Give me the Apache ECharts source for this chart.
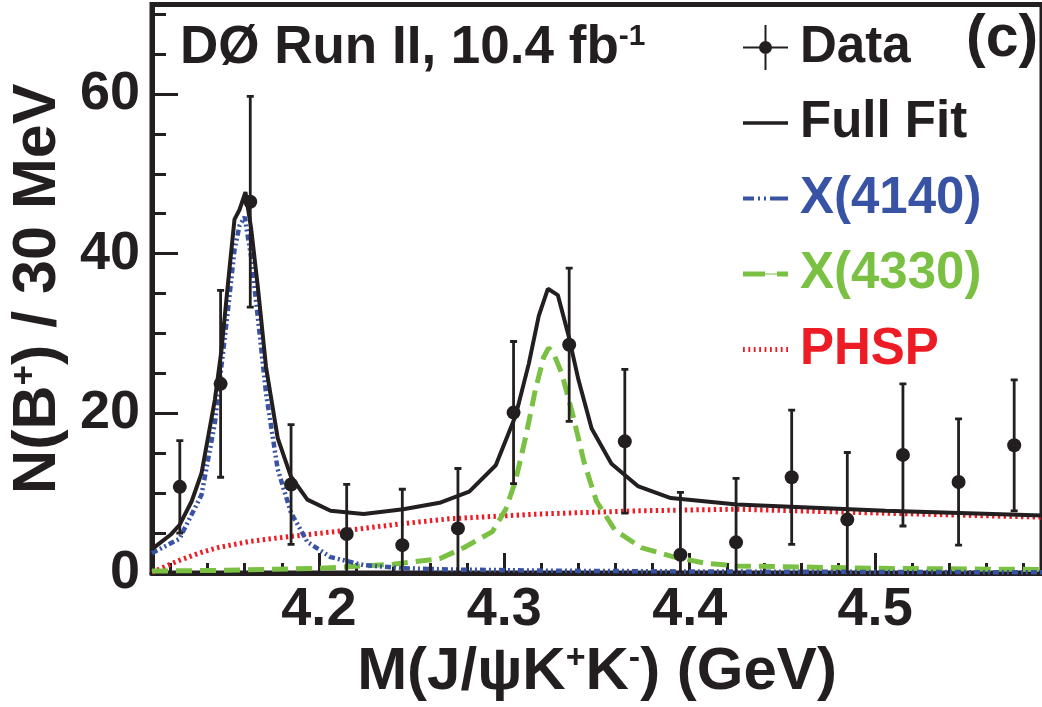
<!DOCTYPE html>
<html><head><meta charset="utf-8">
<script src="https://cdn.jsdelivr.net/npm/echarts@6/dist/echarts.min.js"></script>
<style>html,body{margin:0;padding:0;background:#fff}#c{width:1042px;height:707px}</style>
</head><body><div id="c"></div>
<script>
// ---- data ----
const dataX = [4.125, 4.147, 4.163, 4.185, 4.215, 4.245, 4.275, 4.305, 4.335, 4.365, 4.395, 4.425, 4.455, 4.485, 4.515, 4.545, 4.575];
const dataY = [10.8, 23.7, 46.5, 11.1, 4.9, 3.5, 5.6, 20.1, 28.6, 16.5, 2.3, 3.85, 12.0, 6.7, 14.8, 11.4, 16.0];
const dataErr = [5.8, 11.7, 13.2, 7.5, 6.2, 7.0, 7.5, 8.9, 9.6, 9.0, 7.8, 8.0, 8.4, 8.4, 8.9, 7.9, 8.2];

const fitX = [4.110, 4.120, 4.1248, 4.1314, 4.1367, 4.1439, 4.1474, 4.151, 4.1545, 4.1572, 4.1604, 4.1635, 4.1671, 4.1715, 4.1778, 4.1849, 4.1938, 4.2063, 4.2241, 4.2455, 4.2651, 4.2811, 4.2954, 4.3061, 4.3132, 4.3186, 4.3235, 4.3289, 4.3346, 4.3400, 4.3471, 4.3578, 4.3720, 4.3898, 4.4255, 4.5057, 4.590];
const fitY = [3.0, 4.8, 6.0, 9.0, 12.5, 21.7, 27.8, 36.3, 44.3, 45.5, 47.7, 43.1, 35.8, 25.8, 16.9, 12.1, 9.2, 7.8, 7.4, 8.0, 8.8, 10.2, 13.5, 19.7, 26.2, 32.2, 35.6, 34.8, 29.8, 24.2, 18.1, 13.7, 10.9, 9.4, 8.6, 7.8, 7.2];

const x4140X = [4.110, 4.1248, 4.1367, 4.1439, 4.151, 4.1545, 4.1572, 4.160, 4.1635, 4.1671, 4.1715, 4.1778, 4.1849, 4.1938, 4.2063, 4.2241, 4.2455, 4.2704, 4.324, 4.404, 4.590];
const x4140Y = [2.5, 4.3, 9.8, 18.8, 33.0, 40.5, 43.5, 44.6, 39.5, 32.0, 22.5, 13.0, 7.6, 3.9, 2.0, 1.0, 0.6, 0.45, 0.3, 0.2, 0.1];

const x4330X = [4.110, 4.150, 4.200, 4.240, 4.2651, 4.2784, 4.2936, 4.3008, 4.3061, 4.3114, 4.3168, 4.3212, 4.3239, 4.3266, 4.331, 4.3373, 4.343, 4.3497, 4.3596, 4.3738, 4.3917, 4.4095, 4.4255, 4.500, 4.590];
const x4330Y = [0.25, 0.35, 0.6, 1.1, 1.8, 3.2, 5.2, 8.0, 11.6, 16.9, 23.0, 27.0, 28.2, 27.5, 25.0, 19.5, 13.9, 9.0, 5.4, 3.2, 2.0, 1.2, 0.9, 0.6, 0.45];

const phspX = [4.110, 4.1248, 4.1367, 4.1457, 4.1635, 4.1849, 4.217, 4.2455, 4.2704, 4.3186, 4.372, 4.4255, 4.5057, 4.590];
const phspY = [0.1, 1.6, 2.6, 3.2, 4.0, 4.6, 5.4, 6.2, 6.8, 7.4, 7.8, 8.0, 7.5, 7.0];

const xMajorTicks = [4.2, 4.3, 4.4, 4.5];
const xMinorTicks = [4.12, 4.14, 4.16, 4.18, 4.22, 4.24, 4.26, 4.28, 4.32, 4.34, 4.36, 4.38, 4.42, 4.44, 4.46, 4.48, 4.52, 4.54, 4.56, 4.58];
const yMajorTicks = [0, 20, 40, 60];
const yMinorTicks = [5, 10, 15, 25, 30, 35, 45, 50, 55, 65, 70];

// ---- styling ----
const INK = '#231f20', BLUE = '#3953a4', GREEN = '#7ac143', RED = '#ed1c24';
const FONT = '"Liberation Sans", Arial, Helvetica, sans-serif';
const pairs = (xs, ys) => xs.map((x, i) => [x, ys[i]]);
const errData = dataX.map((x, i) => [x, dataY[i], dataY[i] - dataErr[i], dataY[i] + dataErr[i]]);

// legend icon shapes (drawn as filled paths, aspect kept)
let phspIcon = 'path://';
for (let i = 0; i < 9; i++) phspIcon += 'M' + (i * 5.4).toFixed(1) + ',0h1.8v5h-1.8z ';
const ICONS = {
  data: 'path://M0,21.5h45v2h-45z M21.5,0h2v45h-2z M16,22.5a6.5,6.5 0 1,1 13,0a6.5,6.5 0 1,1 -13,0z',
  fit: 'path://M0,0h45v3.5h-45z',
  x4140: 'path://M0,0h11v4h-11z M15,0h2v4h-2z M21,0h2v4h-2z M27,0h18v4h-18z',
  x4330: 'path://M0,0h22v5h-22z M22,2h12v1h-12z M34,0h11v5h-11z',
  phsp: phspIcon.trim()
};

const chart = echarts.init(document.getElementById('c'), null, {renderer: 'canvas'});
const bigBold = {fontFamily: FONT, fontWeight: 'bold', color: INK};

chart.setOption({
  animation: false,
  backgroundColor: '#fff',
  grid: {left: 150, top: 4.5, width: 897.6, height: 588.5, show: true, borderColor: INK, borderWidth: 5, backgroundColor: 'transparent'},
  title: [
    {text: '{a|DØ Run II, 10.4 fb}{s|-1}', left: 180, top: 22, padding: 0,
     textStyle: {rich: {a: Object.assign({fontSize: 53, lineHeight: 53}, bigBold), s: Object.assign({fontSize: 30, lineHeight: 30, verticalAlign: 'top'}, bigBold)}}},
    {text: '(c)', left: 966, top: 10, padding: 0, textStyle: Object.assign({fontSize: 59}, bigBold)}
  ],
  legend: {
    orient: 'vertical', left: 743, top: 22, padding: 0, itemWidth: 45, itemHeight: 45, itemGap: 24.5,
    selectedMode: false, symbolKeepAspect: true,
    textStyle: {fontSize: 51, fontWeight: 'bold', fontFamily: FONT, padding: [0, 0, 0, 7]},
    data: [
      {name: 'Data', icon: ICONS.data, textStyle: {color: INK}},
      {name: 'Full Fit', icon: ICONS.fit, textStyle: {color: INK}},
      {name: 'X(4140)', icon: ICONS.x4140, textStyle: {color: BLUE}},
      {name: 'X(4330)', icon: ICONS.x4330, textStyle: {color: GREEN}},
      {name: 'PHSP', icon: ICONS.phsp, textStyle: {color: RED}}
    ]
  },
  xAxis: [
    {type: 'value', min: 4.11, max: 4.59, position: 'bottom',
     axisLine: {show: true, onZero: false, lineStyle: {color: INK, width: 5}},
     axisTick: {show: true, inside: true, length: 20, customValues: xMajorTicks, lineStyle: {color: INK, width: 3}},
     axisLabel: {show: true, customValues: xMajorTicks, formatter: v => v.toFixed(1), fontSize: 54, fontWeight: 'bold', fontFamily: FONT, color: INK, margin: 10},
     splitLine: {show: false},
     name: '{t|M(J/ψK}{s|+}{t|K}{s|-}{t|) (GeV)}', nameLocation: 'middle', nameGap: 52,
     nameTextStyle: {rich: {t: Object.assign({fontSize: 60, lineHeight: 60}, bigBold), s: Object.assign({fontSize: 34, lineHeight: 34, verticalAlign: 'top'}, bigBold)}}},
    {type: 'value', min: 4.11, max: 4.59, position: 'bottom',
     axisLine: {show: false, onZero: false},
     axisTick: {show: true, inside: true, length: 10, customValues: xMinorTicks, lineStyle: {color: INK, width: 3}},
     axisLabel: {show: false}, splitLine: {show: false}}
  ],
  yAxis: [
    {type: 'value', min: 0, max: 71.2, position: 'left',
     axisLine: {show: true, onZero: false, lineStyle: {color: INK, width: 5}},
     axisTick: {show: true, inside: true, length: 26, customValues: yMajorTicks, lineStyle: {color: INK, width: 3}},
     axisLabel: {show: true, customValues: yMajorTicks, fontSize: 54, fontWeight: 'bold', fontFamily: FONT, color: INK, margin: 12},
     splitLine: {show: false},
     name: '{t|N(B}{s|+}{t|) / 30 MeV}', nameLocation: 'middle', nameRotate: 90, nameGap: 83,
     nameTextStyle: {rich: {t: Object.assign({fontSize: 61, lineHeight: 61}, bigBold), s: Object.assign({fontSize: 35, lineHeight: 35, verticalAlign: 'top'}, bigBold)}}},
    {type: 'value', min: 0, max: 71.2, position: 'left',
     axisLine: {show: false, onZero: false},
     axisTick: {show: true, inside: true, length: 14, customValues: yMinorTicks, lineStyle: {color: INK, width: 3}},
     axisLabel: {show: false}, splitLine: {show: false}}
  ],
  series: [
    {name: 'PHSP', type: 'line', data: pairs(phspX, phspY), symbol: 'none', showSymbol: false, smooth: false, z: 2,
     itemStyle: {color: RED}, lineStyle: {color: RED, width: 5, type: [2.4, 3.4], cap: 'butt'}},
    {name: 'X(4330)', type: 'line', data: pairs(x4330X, x4330Y), symbol: 'none', showSymbol: false, smooth: false, z: 3,
     itemStyle: {color: GREEN}, lineStyle: {color: GREEN, width: 5, type: [16, 8], cap: 'butt'}},
    {name: 'X(4140)', type: 'line', data: pairs(x4140X, x4140Y), symbol: 'none', showSymbol: false, smooth: false, z: 3,
     itemStyle: {color: BLUE}, lineStyle: {color: BLUE, width: 4.5, type: [6, 3, 2, 3, 2, 3], cap: 'butt'}},
    {name: 'Full Fit', type: 'line', data: pairs(fitX, fitY), symbol: 'none', showSymbol: false, smooth: false, z: 4,
     itemStyle: {color: INK}, lineStyle: {color: INK, width: 4}},
    {name: 'Data', type: 'custom', data: errData, z: 5, clip: true, encode: {x: 0, y: 1},
     itemStyle: {color: INK},
     renderItem: function (params, api) {
       const x = api.value(0), lo = api.value(2), hi = api.value(3);
       const pTop = api.coord([x, hi]);
       const pBot = api.coord([x, Math.max(0, lo)]);
       const cap = 3.5;
       const children = [
         {type: 'line', shape: {x1: pTop[0], y1: pTop[1], x2: pBot[0], y2: pBot[1]}, style: {stroke: INK, lineWidth: 2.8}},
         {type: 'line', shape: {x1: pTop[0] - cap, y1: pTop[1], x2: pTop[0] + cap, y2: pTop[1]}, style: {stroke: INK, lineWidth: 2.8}}
       ];
       if (lo > 0) children.push({type: 'line', shape: {x1: pBot[0] - cap, y1: pBot[1], x2: pBot[0] + cap, y2: pBot[1]}, style: {stroke: INK, lineWidth: 2.8}});
       return {type: 'group', children: children};
     }},
    {name: 'Data', type: 'scatter', data: pairs(dataX, dataY), symbol: 'circle', symbolSize: 14, z: 6,
     itemStyle: {color: INK, opacity: 1}}
  ]
});
</script></body></html>
